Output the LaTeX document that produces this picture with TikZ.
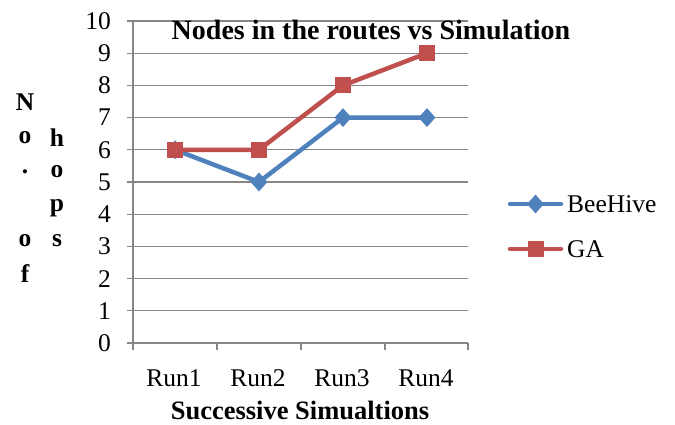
\documentclass[tikz,border=0pt]{standalone}
\usepackage{fontspec}
\setmainfont{Liberation Serif}
\usetikzlibrary{shapes.geometric}
\definecolor{bhblue}{HTML}{4F81BD}
\definecolor{gared}{HTML}{C0504D}
\definecolor{axgray}{HTML}{868686}
\begin{document}
\begin{tikzpicture}[x=1pt,y=-1pt,
  gridline/.style={axgray,line width=1.3pt},
  ticklab/.style={font=\fontsize{25.5}{30}\selectfont,inner sep=0pt},
  ylet/.style={font=\fontsize{25.5}{30}\selectfont\bfseries,inner sep=0pt},
  bhline/.style={bhblue,line width=4.5pt,line cap=round,line join=round},
  galine/.style={gared,line width=4.5pt,line cap=round,line join=round},
  bhmark/.style={diamond,fill=bhblue,minimum width=17pt,minimum height=19pt,inner sep=0pt},
  gamark/.style={rectangle,fill=gared,minimum size=16pt,inner sep=0pt}]
\useasboundingbox (0,0) rectangle (675,425);
% grid lines and y ticks
\foreach \v in {0,...,10}{
  \pgfmathsetmacro{\yy}{343-32.2*\v}
  \draw[gridline] (127,\yy) -- (468,\yy);
  \node[ticklab,anchor=east] (yt\v) at (111,\yy) {\v};
}
% axes
\draw[gridline] (133,21) -- (133,343);
\foreach \xx in {133,217,301,385,468}{
  \draw[gridline] (\xx,343) -- (\xx,350);
}
% x labels
\node[ticklab] (r1) at (174,378) {Run1};
\node[ticklab] (r2) at (258,378) {Run2};
\node[ticklab] (r3) at (342,378) {Run3};
\node[ticklab] (r4) at (426,378) {Run4};
\node[ticklab,font=\fontsize{26.5}{30}\selectfont\bfseries,anchor=base] (xtitle) at (300,419) {Successive Simualtions};
% title
\node[ticklab,font=\fontsize{28}{32}\selectfont\bfseries] (title) at (371,30) {Nodes in the routes vs Simulation};
% y-axis label
\node[ylet] (l1) at (25,102) {N};
\node[ylet] (l2) at (25,138) {o};
\node[ylet] (l3) at (25,172) {.};
\node[ylet] (l5) at (25,241) {o};
\node[ylet] (l6) at (25,274) {f};
\node[ylet] (m2) at (57,138) {h};
\node[ylet] (m3) at (57,172) {o};
\node[ylet] (m4) at (57,208) {p};
\node[ylet] (m5) at (57,241) {s};
% data coordinates
\coordinate (b1) at (175,{343-32.2*6});
\coordinate (b2) at (259,{343-32.2*5});
\coordinate (b3) at (343,{343-32.2*7});
\coordinate (b4) at (427,{343-32.2*7});
\coordinate (g1) at (175,{343-32.2*6});
\coordinate (g2) at (259,{343-32.2*6});
\coordinate (g3) at (343,{343-32.2*8});
\coordinate (g4) at (427,{343-32.2*9});
\draw[bhline] (b1) -- (b2) -- (b3) -- (b4);
\foreach \i in {1,...,4}{\node[bhmark] (bm\i) at (b\i) {};}
\draw[galine] (g1) -- (g2) -- (g3) -- (g4);
\foreach \i in {1,...,4}{\node[gamark] (gm\i) at (g\i) {};}
% legend
\coordinate (lb1) at (510,204);
\coordinate (lb2) at (561,204);
\draw[bhline] (lb1) -- (lb2);
\node[bhmark] (lbm) at (535.5,204) {};
\node[ticklab,anchor=west] (lbt) at (567,204) {BeeHive};
\coordinate (lg1) at (510,249);
\coordinate (lg2) at (561,249);
\draw[galine] (lg1) -- (lg2);
\node[gamark] (lgm) at (535.5,249) {};
\node[ticklab,anchor=west] (lgt) at (567,249) {GA};
\end{tikzpicture}
\end{document}
